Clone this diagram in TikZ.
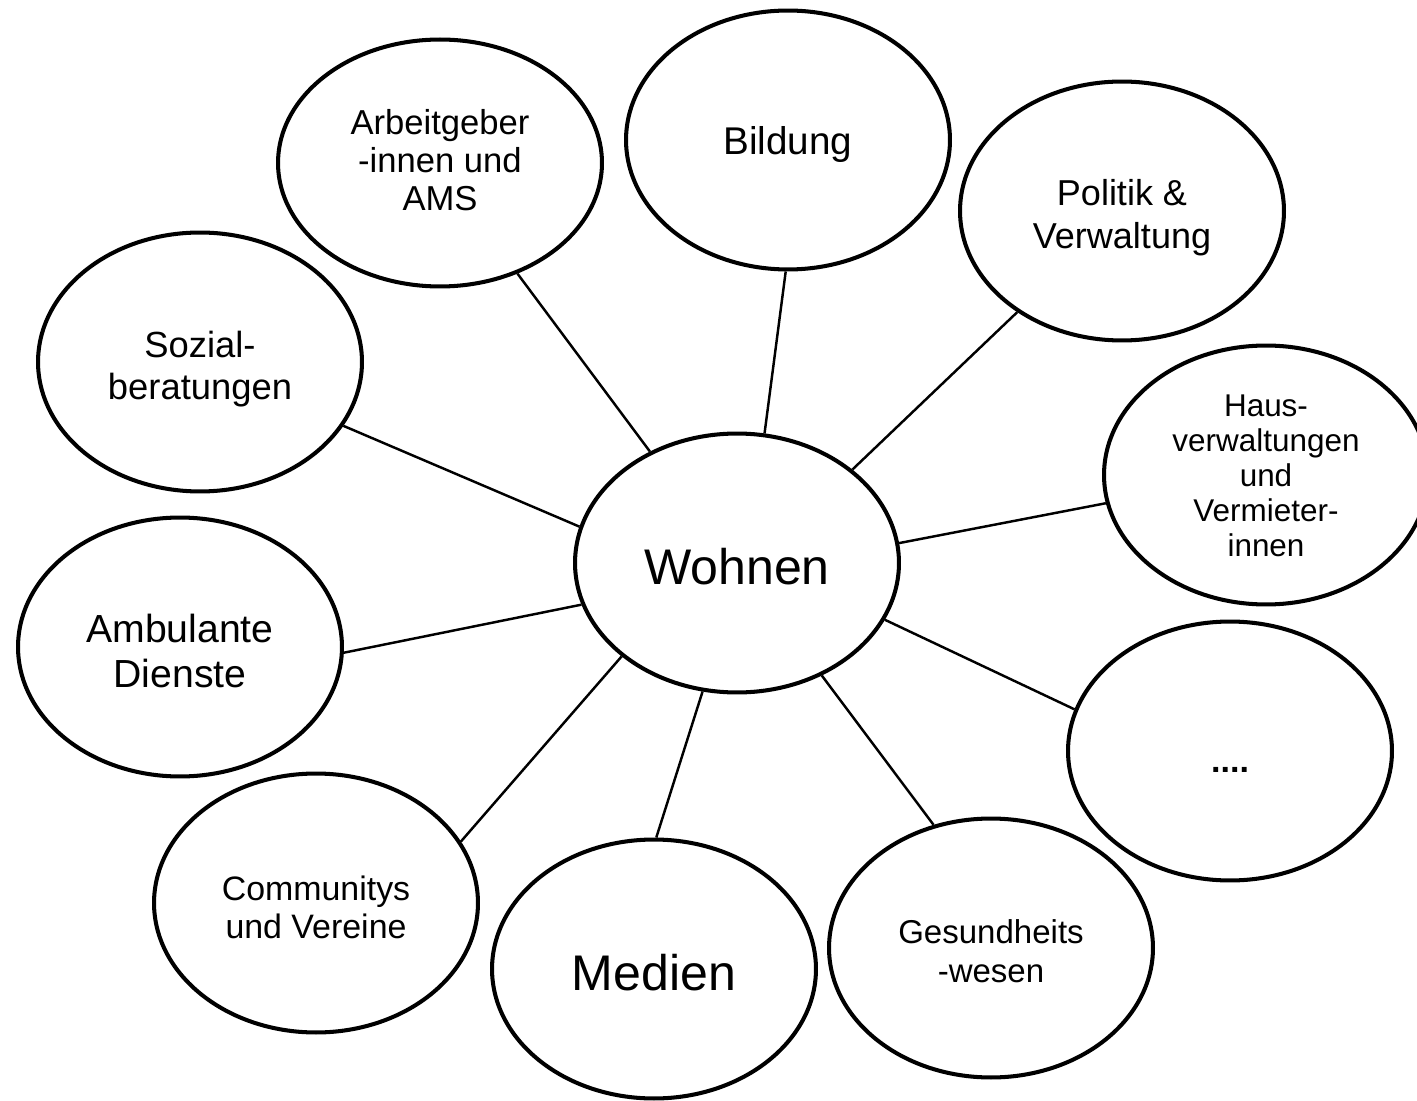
\documentclass[tikz,border=0pt]{standalone}
\usepackage{fontspec}
\setmainfont{Liberation Sans}
\usetikzlibrary{shapes.geometric}
\begin{document}
\begin{tikzpicture}[x=0.02cm,y=-0.02cm,
  bubble/.style={ellipse, draw=black, line width=2.3pt, inner sep=0pt,
    minimum width=6.48cm, minimum height=5.18cm},
  label text/.style={inner sep=0pt, align=center, text=black},
  link/.style={line width=1.4pt, draw=black}]
\useasboundingbox (0,0) rectangle (1417,1101);
% bubbles
\node[bubble] (wohnen) at (737,563) {};
\node[bubble, minimum height=4.94cm] (arb) at (440,163) {};
\node[bubble] (bild) at (788,140) {};
\node[bubble] (pol) at (1122,211) {};
\node[bubble] (haus) at (1266,475) {};
\node[bubble] (dots) at (1230,751) {};
\node[bubble] (ges) at (991,948) {};
\node[bubble] (med) at (654,969) {};
\node[bubble] (com) at (316,903) {};
\node[bubble] (amb) at (180,647) {};
\node[bubble] (soz) at (200,362) {};
% texts
\node[label text, font=\fontsize{28.5}{32}\selectfont] (wohnen-t) at (737,567) {Wohnen};
\node[label text, font=\fontsize{19.7}{21.6}\selectfont] (arb-t) at (440,160) {Arbeitgeber\\-innen und\\AMS};
\node[label text, font=\fontsize{22}{24}\selectfont] (bild-t) at (788,145) {Bildung};
\node[label text, font=\fontsize{20.5}{24.5}\selectfont] (pol-t) at (1122,218) {Politik \&\\Verwaltung};
\node[label text, font=\fontsize{17.9}{19.9}\selectfont] (haus-t) at (1266,476) {Haus-\\verwaltungen\\und\\Vermieter-\\innen};
\node[label text, font=\bfseries\fontsize{19.4}{22}\selectfont] (dots-t) at (1230,770) {....};
\node[label text, font=\fontsize{18.8}{22}\selectfont] (ges-t) at (991,951) {Gesundheits\\-wesen};
\node[label text, font=\fontsize{28.5}{32}\selectfont] (med-t) at (654,973) {Medien};
\node[label text, font=\fontsize{19.3}{21.6}\selectfont] (com-t) at (316,907) {Communitys\\und Vereine};
\node[label text, font=\fontsize{22.3}{25.5}\selectfont] (amb-t) at (180,651) {Ambulante\\Dienste};
\node[label text, font=\fontsize{20.7}{23.8}\selectfont] (soz-t) at (200,369) {Sozial-\\beratungen};
% connectors
\draw[link] (wohnen.128.7) -- (arb.-55);
\draw[link] (wohnen.78.3) -- (bild.-91);
\draw[link] (wohnen.39.3) -- (pol.-136.4);
\draw[link] (wohnen.7) -- (haus.190.9);
\draw[link] (wohnen.-21.6) -- (dots.165);
\draw[link] (wohnen.-53.1) -- (ges.115);
\draw[link] (wohnen.-105.3) -- (med.89.6);
\draw[link] (wohnen.219.6) -- (com.23.4);
\draw[link] (wohnen.195.2) -- (amb.-2.8);
\draw[link] (wohnen.167.9) -- (soz.-24.1);
\end{tikzpicture}
\end{document}
